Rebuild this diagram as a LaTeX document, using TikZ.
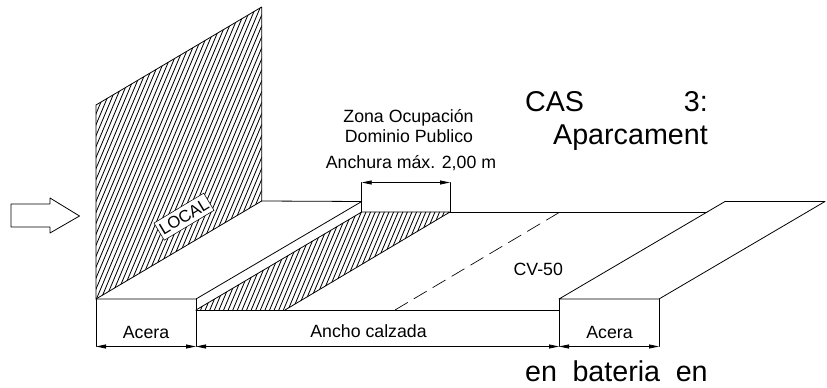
\documentclass[tikz,border=0pt]{standalone}
\usepackage{fontspec}
\setmainfont{Liberation Sans}
\usetikzlibrary{arrows.meta}
\tikzset{
  ln/.style={black,line width=0.6pt,line cap=round,line join=round},
  hl/.style={black,line width=0.62pt},
  dimline/.style={ln,{Triangle[length=7.5pt,width=3pt]}-{Triangle[length=7.5pt,width=3pt]}},
  small/.style={font=\fontsize{13.3pt}{15pt}\selectfont,inner sep=0pt,anchor=base},
  big/.style={font=\fontsize{21.5pt}{25pt}\selectfont,inner sep=0pt,anchor=base east},
}
\begin{document}
\begin{tikzpicture}[x=0.75pt,y=-0.75pt]
\useasboundingbox (0,0) rectangle (827,388);
% key points
\coordinate (wTL) at (96,105);
\coordinate (wTR) at (261.7,7);
\coordinate (wBR) at (261.7,201);
\coordinate (wBL) at (96,299);
\coordinate (sR) at (196,299);
\coordinate (sU) at (361.7,201.5);
\coordinate (cL) at (196,310);
\coordinate (cR) at (559,310);
\coordinate (hA) at (361.7,212);
\coordinate (hB) at (450,212);
\coordinate (hC) at (285,310);
\coordinate (rA) at (559,299);
\coordinate (rB) at (659,299);
\coordinate (rC) at (725,201.5);
\coordinate (rD) at (825,201.5);
\coordinate (tE) at (707,212);
\coordinate (dA) at (395,310);
\coordinate (dB) at (560,212);
\coordinate (e1) at (96,346.5);
\coordinate (e2) at (196,346.5);
\coordinate (e3) at (559,346.5);
\coordinate (e4) at (659,346.5);
\coordinate (t1) at (361.7,182.5);
\coordinate (t2) at (450,182.5);
% hatching of the wall
\begin{scope}
  \clip (wTL) -- (wTR) -- (wBR) -- (wBL) -- cycle;
  \foreach \i in {-30,...,40} {
    \draw[hl] ({96+\i*4.6},300) -- ({96+\i*4.6+0.42*300},0);
  }
\end{scope}
% hatching of the parking strip
\begin{scope}
  \clip (cL) -- (hA) -- (hB) -- (hC) -- cycle;
  \foreach \i in {0,...,56} {
    \draw[hl] ({196+\i*4.6},310) -- ({196+\i*4.6+0.42*100},210);
  }
\end{scope}
% outlines
\draw[ln] (wTL) -- (wTR) -- (wBR) -- (wBL) -- cycle;
\draw[ln] (wBL) -- (sR) -- (sU);
\draw[ln] (wBR) -- (sU);
\draw[ln] (cL) -- (hA) -- (hB) -- (hC);
\draw[ln] (cL) -- (cR);
\draw[ln] (hB) -- (tE);
\draw[ln,line width=0.5pt,dash pattern=on 11pt off 5.5pt] (dA) -- (dB);
\draw[ln] (rB) -- (rA) -- (rC) -- (rD) -- (rB);
% extension lines
\draw[ln] (wBL) -- (e1);
\draw[ln] (sR) -- (e2);
\draw[ln] (rA) -- (e3);
\draw[ln] (rB) -- (e4);
\draw[ln] (hA) -- (t1);
\draw[ln] (hB) -- (t2);
% dimensions
\draw[dimline] (e1) -- (e2);
\draw[dimline] (e2) -- (e3);
\draw[dimline] (e3) -- (e4);
\draw[dimline] (t1) -- (t2);
% big arrow
\draw[ln] (11,204) -- (50,204) -- (50,198) -- (79.5,216) -- (50,233) -- (50,227) -- (11,227) -- cycle;
% labels
\node[draw,line width=0.4pt,fill=white,rotate=31,minimum width=43.5pt,minimum height=15pt,inner sep=0pt,font=\fontsize{12.5pt}{13pt}\selectfont] (local) at (184,216.7) {LOCAL};
\node[small] (acera1) at (146,338.5) {Acera};
\node[small] (ancho) at (368.5,337.5) {Ancho calzada};
\node[small] (acera2) at (609.5,338) {Acera};
\node[small] (cv) at (538.3,275.7) {CV-50};
\node[small] (z1) at (408.5,122.7) {Zona Ocupación};
\node[small] (z2) at (409,143) {Dominio Publico};
\node[small] (z3) at (411,169) {Anchura máx. 2,00 m};
\node[big] (cas) at (708,112) {\makebox[137pt][s]{CAS\hfill 3:}};
\node[big] (apar) at (708,145) {Aparcament};
\node[big] (bat) at (708,381.5) {\makebox[137pt][s]{en\hfill bateria\hfill en}};
\end{tikzpicture}
\end{document}
